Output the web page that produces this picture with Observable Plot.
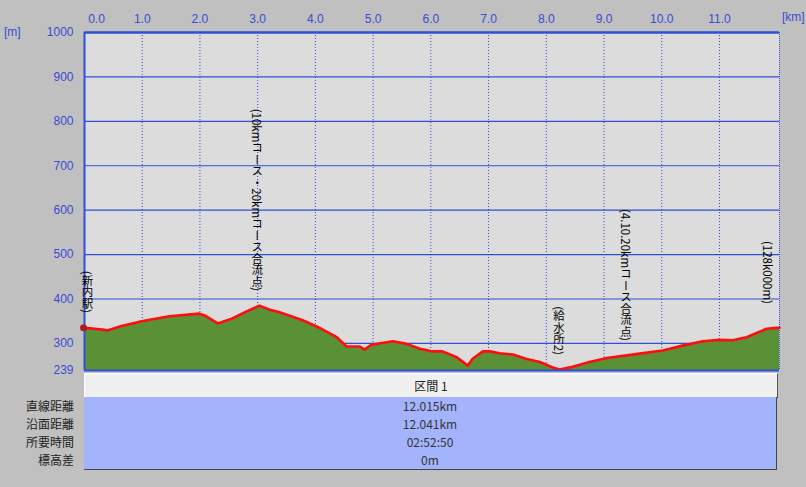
<!DOCTYPE html>
<html><head><meta charset="utf-8">
<script src="https://cdn.jsdelivr.net/npm/d3@7"></script>
<script src="https://cdn.jsdelivr.net/npm/@observablehq/plot@0.6"></script>
<style>
html,body{margin:0;padding:0;}
body{background:#c0c0c0;width:806px;height:487px;overflow:hidden;position:relative;font-family:"Noto Sans CJK JP","Liberation Sans",sans-serif;}
#chart{position:absolute;left:0;top:0;}
.unit{position:absolute;color:#3b4bd3;font-family:"Liberation Sans",sans-serif;font-size:12px;line-height:12px;}
#hdr{position:absolute;left:84px;top:373px;width:692px;height:23px;background:#f0f0f0;border-top:1px solid #fff;border-left:1px solid #fff;border-right:1px solid #555;border-bottom:1px solid #555;text-align:center;font-size:12px;line-height:23px;color:#222;}
#blue{position:absolute;left:84px;top:397px;width:692px;height:72px;background:#a4b4fc;border-right:1px solid #444;border-bottom:1px solid #444;}
.val{position:absolute;left:0;width:692px;text-align:center;font-size:12px;line-height:18px;height:18px;color:#333;}
.lab{position:absolute;right:732px;font-size:12px;line-height:18px;height:18px;color:#222;text-align:right;white-space:nowrap;}
.vlab{position:absolute;writing-mode:vertical-rl;text-orientation:mixed;font-family:"Noto Sans CJK JP",sans-serif;font-size:11.5px;line-height:12px;color:#000;white-space:nowrap;transform:translate(-50%,-100%);}
</style></head><body>
<div id="chart"></div>
<div class="unit" style="left:4px;top:26px;">[m]</div>
<div class="unit" style="left:782px;top:11px;">[km]</div>
<div id="annots"></div>
<div id="hdr"></div>
<div id="blue"></div>
<div id="labs"></div>
<script>
// ---- data ----
const distKm = [0, 0.31, 0.40, 0.61, 0.99, 1.47, 1.99, 2.08, 2.31, 2.56, 2.81, 3.03, 3.21, 3.38, 3.78, 4.04, 4.37, 4.54, 4.77, 4.85, 4.97, 5.34, 5.58, 5.81, 6.03, 6.20, 6.45, 6.64, 6.72, 6.90, 7.02, 7.19, 7.42, 7.66, 7.89, 8.11, 8.23, 8.41, 8.75, 9.05, 9.62, 10.02, 10.36, 10.71, 11.01, 11.23, 11.47, 11.82, 11.99, 12.04];
const elevM  = [335, 331, 329, 338, 350, 361, 367, 363, 345, 356, 372, 385, 376, 370, 352, 337, 314, 293, 293, 286, 297, 305, 299, 288, 282, 282, 269, 250, 265, 282, 282, 278, 275, 265, 258, 246, 241, 246, 258, 267, 277, 284, 295, 305, 308, 307, 314, 333, 335, 335];
const xTicks = [0, 1, 2, 3, 4, 5, 6, 7, 8, 9, 10, 11];
const yTicks = [239, 300, 400, 500, 600, 700, 800, 900, 1000];
const labelText = ["(新内駅)", "(10kmコース・20kmコース合流点)", "(給水所2)", "(4.10.20kmコース合流点)", "(128k000m)"];
const labelKm   = [0.06, 3.0, 8.23, 9.39, 11.85];
const labelElev = [335, 385, 241, 273, 355];
const sectionTitle = "区間 1";
const rowLabels = ["直線距離", "沿面距離", "所要時間", "標高差"];
const rowValues = ["12.015km", "12.041km", "02:52:50", "0m"];

// ---- chart ----
const profile = distKm.map((d, i) => ({km: d, elev: elevM[i]}));
const xMax = 12.04;
const blue = "#2f4fd6";

const plot = Plot.plot({
  width: 806, height: 372,
  marginLeft: 84, marginRight: 27, marginTop: 32, marginBottom: 2,
  style: {background: "transparent", fontFamily: "Liberation Sans", fontSize: "12px", color: "#3b4bd3", overflow: "visible"},
  x: {domain: [0, xMax], axis: "top", ticks: xTicks, tickFormat: d3.format(".1f"), tickSize: 0, tickPadding: 10, label: null},
  y: {domain: [239, 1000], ticks: yTicks, tickFormat: d3.format("d"), tickSize: 0, tickPadding: 11, label: null},
  marks: [
    Plot.frame({fill: "#dcdcdc", stroke: null}),
    Plot.ruleY(yTicks.filter(d => d > 239 && d < 1000), {stroke: blue, strokeWidth: 1.2}),
    Plot.ruleX(xTicks.filter(d => d > 0), {stroke: "#3344dd", strokeDasharray: "1,2"}),
    Plot.areaY(profile, {x: "km", y1: 239, y2: "elev", fill: "#5a9137"}),
    Plot.line(profile, {x: "km", y: "elev", stroke: "#ff0d0d", strokeWidth: 2.6}),
    Plot.ruleX([0], {stroke: blue, strokeWidth: 2}),
    Plot.ruleX([xMax], {stroke: "#3344dd", strokeDasharray: "1,1"}),
    Plot.ruleY([1000], {stroke: blue, strokeWidth: 2.5}),
    Plot.ruleY([239], {stroke: blue, strokeWidth: 2}),
    Plot.dot(profile.slice(0, 1), {x: "km", y: "elev", r: 3.5, fill: "#b01c1c", dx: -1})
  ]
});
// nudge the first top tick label right as in the reference
const firstTick = plot.querySelector('g[aria-label="x-axis tick label"] text');
if (firstTick) firstTick.setAttribute("dx", "12");
document.getElementById("chart").appendChild(plot);

// ---- vertical annotations (CJK upright), placed with Plot's scales ----
const sx = plot.scale("x"), sy = plot.scale("y");
const annots = document.getElementById("annots");
labelText.forEach((t, i) => {
  const d = document.createElement("div");
  d.className = "vlab";
  d.textContent = t;
  d.style.left = sx.apply(labelKm[i]) + "px";
  d.style.top = (sy.apply(labelElev[i]) - 14) + "px";
  annots.appendChild(d);
});

// ---- table ----
document.getElementById("hdr").textContent = sectionTitle;
const blueBox = document.getElementById("blue");
const labs = document.getElementById("labs");
rowValues.forEach((v, i) => {
  const d = document.createElement("div");
  d.className = "val"; d.style.top = (i * 18) + "px"; d.textContent = v;
  blueBox.appendChild(d);
  const l = document.createElement("div");
  l.className = "lab"; l.style.top = (397 + i * 18) + "px"; l.textContent = rowLabels[i];
  labs.appendChild(l);
});
</script>
</body></html>
